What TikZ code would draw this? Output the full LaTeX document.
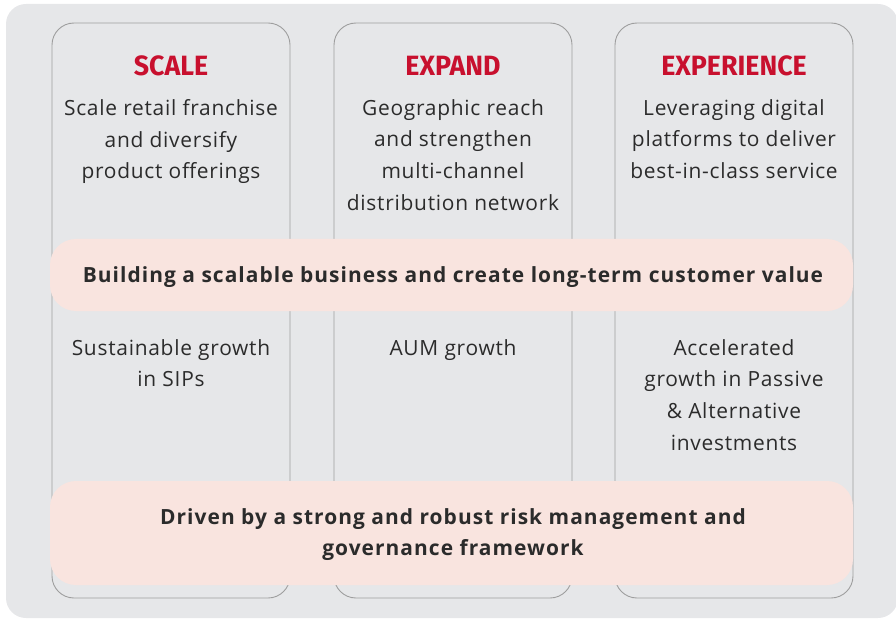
\documentclass[tikz,border=0pt]{standalone}
\usepackage{fontspec}
\setmainfont{Open Sans}
\newfontfamily\bodyfont[LetterSpace=3.5]{Open Sans}
\newfontfamily\bandfont[LetterSpace=5]{Open Sans}
\newfontfamily\headfont[FakeStretch=0.96]{Fira Sans}
\definecolor{panelgray}{HTML}{E6E7E9}
\definecolor{framegray}{HTML}{9E9E9E}
\definecolor{bandpink}{HTML}{F9E4DF}
\definecolor{titlered}{HTML}{C8102E}
\definecolor{inkgray}{HTML}{2B2B2B}
\tikzset{
	colbox/.style={draw=framegray, line width=0.9bp, rounded corners=22bp},
	band/.style={fill=bandpink, rounded corners=26bp},
	headtext/.style={text=titlered, anchor=base, font=\headfont\bfseries\fontsize{28}{32}\selectfont},
	bodytext/.style={text=inkgray, anchor=north, inner sep=0pt, align=center, font=\bodyfont\fontsize{21}{32}\selectfont},
	bandtext/.style={text=inkgray, anchor=north, inner sep=0pt, align=center, font=\bandfont\bfseries\fontsize{21}{32}\selectfont}
}

\begin{document}
\begin{tikzpicture}[x=1bp, y=-1bp]
		\useasboundingbox (0, 0) rectangle (896, 621);
		\fill[panelgray, rounded corners=20bp] (6, 4) rectangle (898, 618);
		
		\draw[colbox] (52, 23) rectangle (290, 598);
		\draw[colbox] (334, 23) rectangle (572, 598);
		\draw[colbox] (615, 23) rectangle (853, 598);
		
		\node[headtext] (scale) at (171, 76) {SCALE};
		\node[headtext] (expand) at (453, 76) {EXPAND};
		\node[headtext] (experience) at (734, 76) {EXPERIENCE};
		
		\node[bodytext] (scaletop) at (171, 99) {Scale retail franchise\\and diversify\\product offerings};
		\node[bodytext] (expandtop) at (453, 99) {Geographic reach\\and strengthen\\multi-channel\\distribution network};
		\node[bodytext] (experiencetop) at (734, 99) {Leveraging digital\\platforms to deliver\\best-in-class service};
		
		\fill[band] (50, 239) rectangle (853, 311);
		\node[bandtext] (value) at (453, 266) {Building a scalable business and create long-term customer value};
		
		\node[bodytext] (scalelow) at (171, 339) {Sustainable growth\\in SIPs};
		\node[bodytext] (expandlow) at (453, 339) {AUM growth};
		\node[bodytext] (experiencelow) at (734, 339) {Accelerated\\growth in Passive\\\& Alternative\\investments};
		
		\fill[band] (50, 481) rectangle (853, 585);
		\node[bandtext] (risk) at (453, 508) {Driven by a strong and robust risk management and\\governance framework};
	\end{tikzpicture}
\end{document}
